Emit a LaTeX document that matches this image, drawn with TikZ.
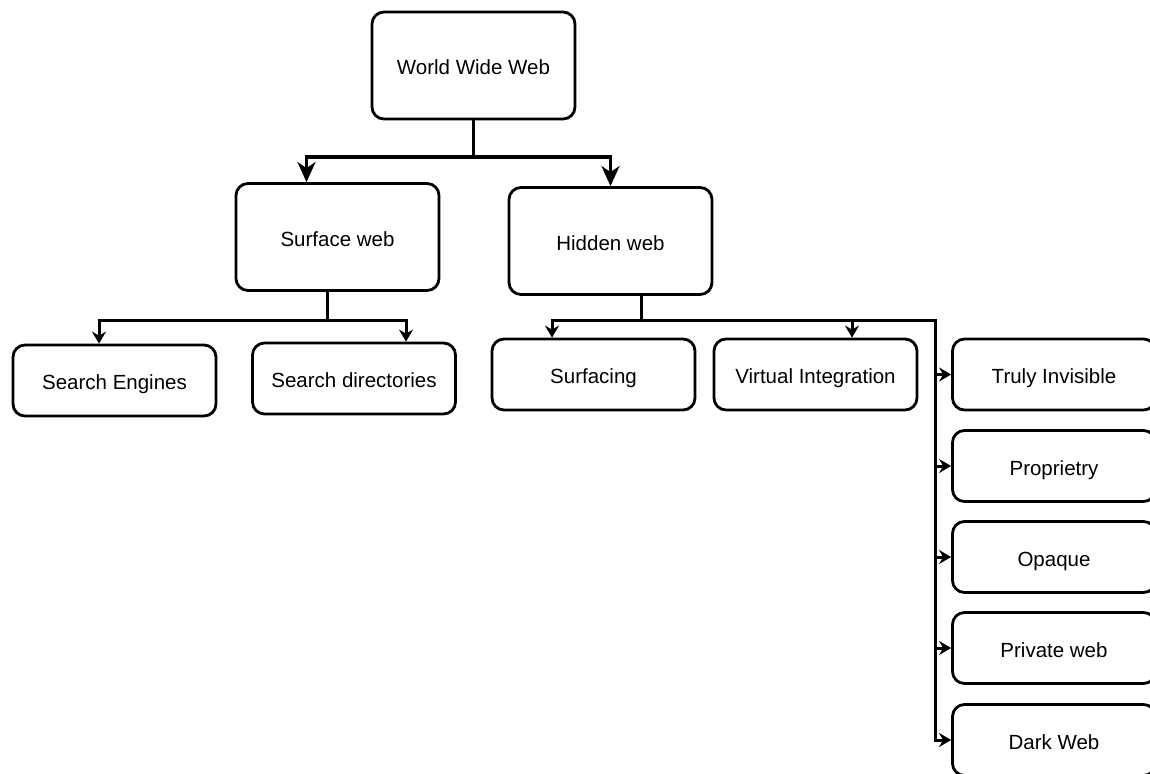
\documentclass[tikz,border=0pt]{standalone}
\usepackage{fontspec}
\setmainfont{Liberation Sans}
\usetikzlibrary{arrows.meta}
\begin{document}
\begin{tikzpicture}[x=1pt,y=-1pt,
  box/.style={draw=black, line width=2.8pt, rounded corners=12pt, fill=white,
    minimum width=203pt, align=center, inner sep=0pt,
    text height=22pt, text depth=4pt, font=\fontsize{20.5}{24}\selectfont},
  tall/.style={box, minimum height=107pt},
  short/.style={box, minimum height=71pt},
  toparrow/.style={line width=3.2pt, -{Stealth[length=20pt,width=18pt,inset=6pt]}},
  subarrow/.style={line width=3pt, -{Stealth[length=12pt,width=14pt,inset=4pt]}}]
\useasboundingbox (0,0) rectangle (1150,773);
\clip (0,0) rectangle (1150,773);

% top level
\node[tall] (www) at (473.5,65.5) {World Wide Web};
\node[tall] (surf) at (337.5,237) {Surface web};
\node[tall] (hid) at (610.5,241) {Hidden web};

% surface web children
\node[short] (se) at (114.5,380.5) {Search Engines};
\node[short] (sd) at (354,378.5) {Search directories};

% hidden web children
\node[short] (sfc) at (593.5,374.5) {Surfacing};
\node[short] (vi) at (815.5,374.5) {Virtual Integration};

% right column, running off the right edge
\node[short] (ti) at (1054,374.5) {Truly Invisible};
\node[short] (pr) at (1054,466) {Proprietry};
\node[short] (op) at (1054,557) {Opaque};
\node[short] (pw) at (1054,648) {Private web};
\node[short] (dw) at (1054,740) {Dark Web};

% junction points
\coordinate (wj) at (473.5,157);
\coordinate (sj) at (327,320);
\coordinate (hj) at (641,320);
\coordinate (rail) at (935,320);

% WWW -> surface / hidden
\draw[toparrow] (www.south) -- (wj) -| ([xshift=-31pt]surf.north);
\draw[toparrow] (www.south) -- (wj) -| (hid.north);

% surface web -> children
\draw[subarrow] ([xshift=-10.5pt]surf.south) -- (sj) -| ([xshift=-15.5pt]se.north);
\draw[subarrow] ([xshift=-10.5pt]surf.south) -- (sj) -| ([xshift=52pt]sd.north);

% hidden web -> children
\draw[subarrow] ([xshift=30.5pt]hid.south) -- (hj) -| ([xshift=-41.5pt]sfc.north);
\draw[subarrow] ([xshift=30.5pt]hid.south) -- (hj) -| ([xshift=36.5pt]vi.north);
\foreach \n in {ti,pr,op,pw,dw}
  \draw[subarrow] ([xshift=30.5pt]hid.south) -- (hj) -- (rail) |- (\n.west);
\end{tikzpicture}
\end{document}
